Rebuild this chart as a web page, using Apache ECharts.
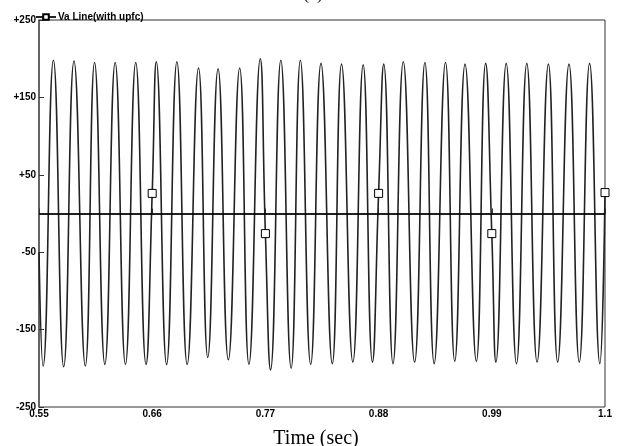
<!DOCTYPE html>
<html>
<head>
<meta charset="utf-8">
<script src="https://cdn.jsdelivr.net/npm/echarts@6/dist/echarts.min.js"></script>
<style>
  html, body { margin: 0; padding: 0; background: #fff; }
  #main { width: 618px; height: 446px; }
</style>
</head>
<body>
<div id="main"></div>
<script>
// 波峰 (s, V)
var peakTimes = [0.564, 0.584, 0.604, 0.624, 0.644, 0.664, 0.684, 0.705, 0.724, 0.745, 0.765, 0.785, 0.804, 0.824,
                 0.844, 0.865, 0.885, 0.904, 0.925, 0.945, 0.964, 0.984, 1.004, 1.024, 1.045, 1.065, 1.085];
var peakValues = [198, 197, 195, 195, 195, 196, 196, 188, 187, 188, 200, 198, 198, 194,
                  193, 192, 193, 196, 195, 195, 193, 194, 194, 194, 193, 193, 194];
// 波谷
var troughTimes = [0.554, 0.574, 0.595, 0.614, 0.634, 0.654, 0.674, 0.694, 0.714, 0.734, 0.754, 0.775, 0.795, 0.814,
                   0.835, 0.855, 0.874, 0.894, 0.915, 0.934, 0.954, 0.975, 0.994, 1.014, 1.034, 1.054, 1.075, 1.095];
var troughValues = [-197, -198, -197, -195, -195, -195, -195, -195, -186, -189, -195, -202, -200, -195,
                    -194, -192, -192, -194, -192, -194, -191, -191, -192, -194, -192, -192, -192, -194];
// start of the trace
var startTimes = [0.55];
var startValues = [-50];
// square markers on the trace
var markerTimes = [0.66, 0.77, 0.88, 0.99, 1.1];
var markerValues = [26, -26, 26, -26, 27];

var xTicks = [0.55, 0.66, 0.77, 0.88, 0.99, 1.1];
var yTicks = [-250, -150, -50, 50, 150, 250];

var myChart = echarts.init(document.getElementById('main'));

var pts = [];
function addPts(ts, vs, isMarker) {
  for (var i = 0; i < ts.length; i++) {
    pts.push({ value: [ts[i], vs[i]], symbol: isMarker ? 'rect' : 'none' });
  }
}
addPts(startTimes, startValues, false);
addPts(peakTimes, peakValues, false);
addPts(troughTimes, troughValues, false);
addPts(markerTimes, markerValues, true);
pts.sort(function (a, b) { return a.value[0] - b.value[0]; });

var labelFont = { fontFamily: '"Liberation Sans Narrow", "Liberation Sans", Arial, sans-serif', fontWeight: 'bold', fontSize: 10, color: '#000' };

var option = {
  animation: false,
  title: {
    text: '(a)',
    left: 298,
    top: -20,
    textStyle: { fontFamily: '"Liberation Serif", "Times New Roman", serif', fontSize: 18, fontWeight: 'normal', color: '#000' }
  },
  legend: {
    left: 30,
    top: 7,
    itemWidth: 20,
    itemHeight: 7,
    itemGap: 4,
    textStyle: { fontFamily: labelFont.fontFamily, fontWeight: 'bold', fontSize: 10, color: '#000', padding: [0, 0, 0, -3] },
    data: ['Va Line(with upfc)']
  },
  grid: {
    left: 39, right: 13, top: 20, bottom: 39,
    outerBoundsMode: 'none',
    containLabel: false,
    show: true,
    borderColor: '#333',
    borderWidth: 1
  },
  xAxis: {
    type: 'value',
    min: 0.55,
    max: 1.1,
    name: 'Time (sec)',
    nameLocation: 'middle',
    nameGap: 22,
    nameTextStyle: { fontFamily: '"Liberation Serif", "Times New Roman", serif', fontSize: 20, color: '#000', padding: [0, 12, 0, 0] },
    axisLine: { lineStyle: { color: '#555', width: 1.5 } },
    axisTick: { inside: true, length: 5, customValues: xTicks, lineStyle: { color: '#333' } },
    axisLabel: Object.assign({ margin: 2, customValues: xTicks }, labelFont),
    splitLine: { show: false }
  },
  yAxis: {
    type: 'value',
    min: -250,
    max: 250,
    axisLine: { show: true, lineStyle: { color: '#555', width: 1.5 } },
    axisTick: { show: true, inside: true, length: 5, customValues: yTicks, lineStyle: { color: '#333' } },
    axisLabel: Object.assign({
      margin: 3,
      customValues: yTicks,
      formatter: function (v) { return v > 0 ? '+' + v : String(v); }
    }, labelFont),
    splitLine: { show: false }
  },
  series: [
    {
      name: 'Va Line(with upfc)',
      type: 'line',
      data: pts,
      smooth: 0.5,
      symbol: 'rect',
      symbolSize: 8,
      showSymbol: true,
      lineStyle: { color: '#222', width: 1.6 },
      itemStyle: { color: '#fff', borderColor: '#000', borderWidth: 1 },
      markLine: {
        silent: true,
        symbol: 'none',
        label: { show: false },
        lineStyle: { color: '#000', width: 1.5, type: 'solid' },
        data: [{ yAxis: 0 }]
      },
      z: 3
    }
  ]
};
myChart.setOption(option);
</script>
</body>
</html>
